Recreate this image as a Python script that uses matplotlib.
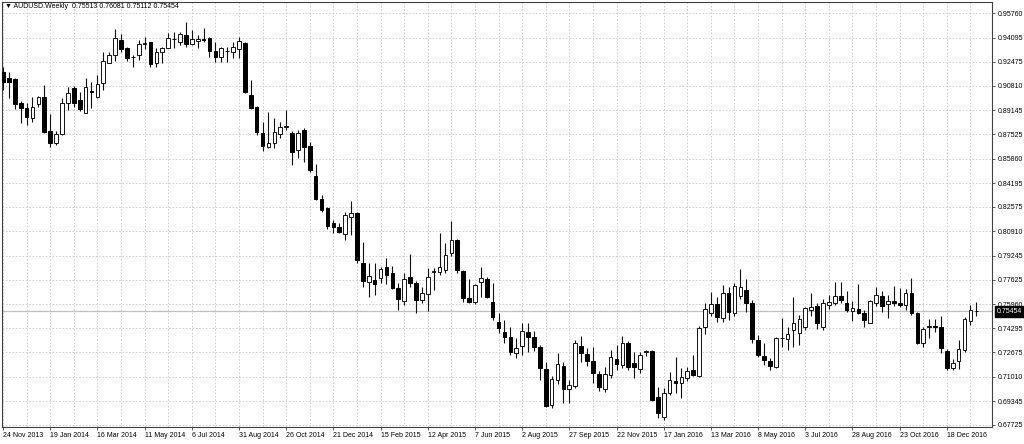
import numpy as np
import pandas as pd
import matplotlib
matplotlib.use("Agg")
import matplotlib.pyplot as plt

# ── AUDUSD weekly bars (first bar = week of 24 Nov 2013) ──
SYMBOL     = "AUDUSD.Weekly"
FIRST_WEEK = "2013-11-24"

open_ = [
    0.9178, 0.9133, 0.9126, 0.8963, 0.8929, 0.8861, 0.8958, 0.9004, 0.8776, 0.8695,
    0.8754, 0.8963, 0.9065, 0.8986, 0.8899, 0.9048, 0.9004, 0.9103, 0.9240, 0.9290,
    0.9394, 0.9338, 0.9280, 0.9292, 0.9370, 0.9378, 0.9235, 0.9311, 0.9342, 0.9398,
    0.9383, 0.9428, 0.9367, 0.9387, 0.9399, 0.9406, 0.9319, 0.9281, 0.9322, 0.9310,
    0.9333, 0.9372, 0.9020, 0.8940, 0.8759, 0.8668, 0.8691, 0.8752, 0.8800, 0.8759,
    0.8645, 0.8781, 0.8674, 0.8470, 0.8311, 0.8252, 0.8146, 0.8123, 0.8071, 0.8191,
    0.8218, 0.7878, 0.7748, 0.7760, 0.7771, 0.7846, 0.7805, 0.7703, 0.7619, 0.7782,
    0.7741, 0.7624, 0.7662, 0.7813, 0.7812, 0.7829, 0.7941, 0.8032, 0.7820, 0.7635,
    0.7612, 0.7748, 0.7764, 0.7612, 0.7476, 0.7408, 0.7374, 0.7261, 0.7310, 0.7408,
    0.7370, 0.7301, 0.7151, 0.6909, 0.7079, 0.7174, 0.7019, 0.7038, 0.7310, 0.7256,
    0.7206, 0.7118, 0.7018, 0.7113, 0.7220, 0.7181, 0.7333, 0.7192, 0.7151, 0.7271,
    0.7276, 0.6961, 0.6825, 0.6992, 0.7072, 0.7056, 0.7090, 0.7147, 0.7106, 0.7441,
    0.7533, 0.7596, 0.7499, 0.7669, 0.7533, 0.7651, 0.7692, 0.7601, 0.7351, 0.7242,
    0.7210, 0.7169, 0.7365, 0.7360, 0.7419, 0.7401, 0.7442, 0.7556, 0.7583, 0.7442,
    0.7589, 0.7605, 0.7651, 0.7601, 0.7550, 0.7560, 0.7533, 0.7469, 0.7605, 0.7651,
    0.7596, 0.7619, 0.7605, 0.7589, 0.7673, 0.7537, 0.7329, 0.7440, 0.7446, 0.7442,
    0.7278, 0.7158, 0.7210, 0.7283, 0.7482, 0.75513,
]
high = [
    0.9212, 0.9178, 0.9133, 0.8981, 0.8965, 0.9008, 0.9013, 0.9088, 0.8890, 0.8776,
    0.8997, 0.9072, 0.9081, 0.9042, 0.9133, 0.9110, 0.9156, 0.9315, 0.9315, 0.9467,
    0.9435, 0.9349, 0.9292, 0.9394, 0.9417, 0.9383, 0.9338, 0.9349, 0.9440, 0.9451,
    0.9447, 0.9515, 0.9462, 0.9428, 0.9478, 0.9415, 0.9378, 0.9349, 0.9349, 0.9378,
    0.9417, 0.9378, 0.9122, 0.8945, 0.8834, 0.8906, 0.8865, 0.8838, 0.8917, 0.8775,
    0.8781, 0.8793, 0.8701, 0.8548, 0.8339, 0.8259, 0.8168, 0.8150, 0.8225, 0.8298,
    0.8225, 0.8020, 0.7878, 0.7873, 0.7850, 0.7908, 0.7855, 0.7737, 0.7805, 0.7937,
    0.7755, 0.7714, 0.7839, 0.7839, 0.8078, 0.8010, 0.8164, 0.8040, 0.7828, 0.7764,
    0.7732, 0.7846, 0.7782, 0.7737, 0.7533, 0.7487, 0.7442, 0.7365, 0.7465, 0.7465,
    0.7412, 0.7317, 0.7201, 0.7106, 0.7265, 0.7201, 0.7079, 0.7351, 0.7378, 0.7297,
    0.7303, 0.7140, 0.7167, 0.7283, 0.7317, 0.7378, 0.7344, 0.7269, 0.7269, 0.7283,
    0.7283, 0.7033, 0.7024, 0.7135, 0.7238, 0.7160, 0.7165, 0.7249, 0.7447, 0.7601,
    0.7680, 0.7646, 0.7726, 0.7714, 0.7737, 0.7833, 0.7764, 0.7624, 0.7385, 0.7330,
    0.7226, 0.7374, 0.7499, 0.7442, 0.7642, 0.7521, 0.7578, 0.7673, 0.7605, 0.7628,
    0.7658, 0.7748, 0.7748, 0.7687, 0.7619, 0.7732, 0.7556, 0.7624, 0.7714, 0.7687,
    0.7658, 0.7719, 0.7703, 0.7697, 0.7771, 0.7544, 0.7442, 0.7492, 0.7492, 0.7515,
    0.7288, 0.7220, 0.7351, 0.7510, 0.7589, 0.76081,
]
low = [
    0.9054, 0.8997, 0.8922, 0.8827, 0.8815, 0.8838, 0.8940, 0.8763, 0.8668, 0.8679,
    0.8745, 0.8917, 0.8940, 0.8913, 0.8895, 0.8929, 0.8997, 0.9054, 0.9235, 0.9253,
    0.9315, 0.9253, 0.9208, 0.9258, 0.9331, 0.9212, 0.9212, 0.9240, 0.9338, 0.9338,
    0.9360, 0.9349, 0.9360, 0.9338, 0.9383, 0.9281, 0.9246, 0.9246, 0.9246, 0.9274,
    0.9274, 0.9030, 0.8924, 0.8747, 0.8638, 0.8657, 0.8657, 0.8725, 0.8780, 0.8543,
    0.8589, 0.8565, 0.8497, 0.8305, 0.8221, 0.8107, 0.8082, 0.8078, 0.8032, 0.8066,
    0.7878, 0.7714, 0.7646, 0.7658, 0.7737, 0.7732, 0.7700, 0.7556, 0.7589, 0.7714,
    0.7533, 0.7601, 0.7551, 0.7692, 0.7794, 0.7805, 0.7923, 0.7809, 0.7612, 0.7600,
    0.7595, 0.7646, 0.7640, 0.7487, 0.7399, 0.7331, 0.7249, 0.7229, 0.7249, 0.7269,
    0.7276, 0.7080, 0.6895, 0.6888, 0.7050, 0.6922, 0.6920, 0.7024, 0.7201, 0.7174,
    0.7058, 0.7004, 0.6997, 0.7092, 0.7147, 0.7161, 0.7147, 0.7090, 0.7126, 0.7242,
    0.6936, 0.6820, 0.6806, 0.6975, 0.6990, 0.6956, 0.7072, 0.7106, 0.7099, 0.7392,
    0.7515, 0.7476, 0.7476, 0.7487, 0.7515, 0.7628, 0.7544, 0.7329, 0.7238, 0.7181,
    0.7147, 0.7158, 0.7305, 0.7283, 0.7301, 0.7317, 0.7419, 0.7515, 0.7424, 0.7419,
    0.7560, 0.7589, 0.7601, 0.7544, 0.7482, 0.7528, 0.7438, 0.7467, 0.7583, 0.7544,
    0.7499, 0.7583, 0.7574, 0.7556, 0.7521, 0.7324, 0.7306, 0.7363, 0.7408, 0.7261,
    0.7147, 0.7147, 0.7156, 0.7271, 0.7453, 0.75112,
]
close = [
    0.9110, 0.9110, 0.8958, 0.8929, 0.8868, 0.8940, 0.9004, 0.8770, 0.8695, 0.8754,
    0.8967, 0.9035, 0.8967, 0.8922, 0.9072, 0.9042, 0.9094, 0.9253, 0.9292, 0.9406,
    0.9331, 0.9269, 0.9281, 0.9367, 0.9374, 0.9231, 0.9315, 0.9338, 0.9410, 0.9402,
    0.9433, 0.9365, 0.9401, 0.9401, 0.9397, 0.9319, 0.9281, 0.9338, 0.9319, 0.9349,
    0.9387, 0.9038, 0.8929, 0.8766, 0.8674, 0.8695, 0.8770, 0.8804, 0.8806, 0.8634,
    0.8759, 0.8668, 0.8509, 0.8311, 0.8236, 0.8130, 0.8123, 0.8089, 0.8202, 0.8213,
    0.7896, 0.7755, 0.7787, 0.7732, 0.7833, 0.7794, 0.7707, 0.7628, 0.7764, 0.7741,
    0.7624, 0.7673, 0.7778, 0.7818, 0.7846, 0.7930, 0.8032, 0.7828, 0.7635, 0.7612,
    0.7726, 0.7775, 0.7646, 0.7510, 0.7431, 0.7370, 0.7271, 0.7295, 0.7415, 0.7370,
    0.7306, 0.7158, 0.6902, 0.7084, 0.7188, 0.7015, 0.7043, 0.7333, 0.7261, 0.7210,
    0.7124, 0.7033, 0.7120, 0.7233, 0.7188, 0.7333, 0.7169, 0.7165, 0.7249, 0.7274,
    0.6943, 0.6852, 0.6992, 0.7079, 0.7056, 0.7097, 0.7142, 0.7113, 0.7431, 0.7560,
    0.7596, 0.7506, 0.7673, 0.7544, 0.7719, 0.7714, 0.7601, 0.7356, 0.7249, 0.7215,
    0.7174, 0.7363, 0.7367, 0.7392, 0.7465, 0.7492, 0.7567, 0.7574, 0.7465, 0.7605,
    0.7612, 0.7651, 0.7624, 0.7556, 0.7567, 0.7533, 0.7487, 0.7619, 0.7658, 0.7583,
    0.7617, 0.7601, 0.7592, 0.7669, 0.7533, 0.7329, 0.7424, 0.7444, 0.7442, 0.7295,
    0.7158, 0.7197, 0.7288, 0.7492, 0.7556, 0.75454,
]

# right-hand price scale as printed by the terminal
price_ticks = [0.95760, 0.94095, 0.92475, 0.90810, 0.89145, 0.87525, 0.85860,
               0.84195, 0.82575, 0.80910, 0.79245, 0.77625, 0.75960, 0.74295,
               0.72675, 0.71010, 0.69345, 0.67725]

LABEL_EVERY = 8   # bars between date labels
GRID_EVERY  = 4   # bars between vertical grid lines

FONT = ["Liberation Sans", "DejaVu Sans"]
plt.rcParams["font.family"] = FONT


def main():
    o = np.array(open_)
    h = np.array(high)
    l = np.array(low)
    c = np.array(close)
    n = len(c)
    xs = np.arange(n)
    weeks = pd.date_range(FIRST_WEEK, periods=n, freq="7D")

    fig = plt.figure(figsize=(10.24, 4.44), dpi=100)
    ax = fig.add_axes([2 / 1024, 17.5 / 444, 989.7 / 1024, 424.8 / 444])

    # wicks, then bodies on top
    ax.vlines(xs, l, h, color="#111111", lw=0.8, zorder=3)
    bull = c >= o
    bottom = np.minimum(o, c)
    height = np.maximum(np.abs(c - o), 0.00004)
    ax.bar(xs[bull], height[bull], bottom=bottom[bull], width=0.62,
           facecolor="white", edgecolor="#111111", lw=0.7, zorder=4)
    ax.bar(xs[~bull], height[~bull], bottom=bottom[~bull], width=0.62,
           facecolor="black", edgecolor="black", lw=0.7, zorder=4)

    # bid line
    ax.axhline(c[-1], color="#c0c0c0", lw=0.9, zorder=2)

    ax.set_xlim(-0.17, 167.6)
    ax.set_ylim(0.6762, 0.96549)

    # y scale on the right
    ax.yaxis.tick_right()
    ax.set_yticks(price_ticks)
    ax.set_yticklabels([f"{v:.5f}" for v in price_ticks])
    ax.tick_params(axis="y", direction="out", length=2.5, width=0.6,
                   pad=1.5, labelsize=5, color="#404040")

    # dates along the bottom
    major = xs[::LABEL_EVERY]
    ax.set_xticks(major)
    ax.set_xticklabels([f"{d.day} {d.strftime('%b %Y')}" for d in weeks[::LABEL_EVERY]])
    ax.set_xticks(xs[GRID_EVERY::LABEL_EVERY], minor=True)
    ax.tick_params(axis="x", which="major", direction="out", length=2.5,
                   width=0.6, pad=1.5, labelsize=5, color="#404040")
    ax.tick_params(axis="x", which="minor", length=0)
    for lbl in ax.get_xticklabels():
        lbl.set_horizontalalignment("left")

    ax.grid(axis="y", which="major", color="#c8c8c8", ls=(0, (2, 2)), lw=0.6)
    ax.grid(axis="x", which="both", color="#c8c8c8", ls=(0, (2, 2)), lw=0.6)
    ax.set_axisbelow(True)

    for s in ax.spines.values():
        s.set_color("#404040")
        s.set_linewidth(0.8)

    # current price box on the scale
    ax.annotate(f"{c[-1]:.5f}", xy=(1, c[-1]), xycoords=ax.get_yaxis_transform(),
                xytext=(3.6, 0), textcoords="offset points", ha="left", va="center",
                color="white", fontsize=5,
                bbox=dict(boxstyle="square,pad=0.25", fc="black", ec="black"))

    # header line, O H L C of the last bar
    header = f"\u25bc {SYMBOL}  {o[-1]:.5f} {h[-1]:.5f} {l[-1]:.5f} {c[-1]:.5f}"
    fig.text(5 / 1024, 1 - 7 / 444, header, va="center", ha="left",
             fontsize=5, family=FONT)

    fig.savefig("out.png", dpi=100, facecolor="white")
    plt.close(fig)


if __name__ == "__main__":
    main()
